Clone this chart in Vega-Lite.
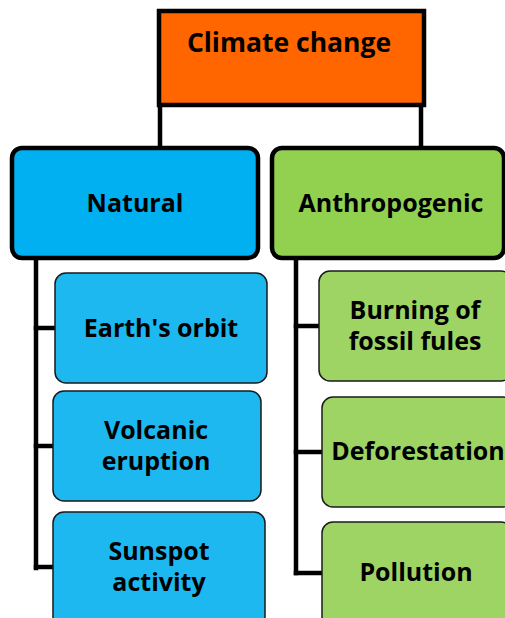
{
  "$schema": "https://vega.github.io/schema/vega-lite/v6.json",
  "width": 505,
  "height": 618,
  "autosize": {"type": "fit", "contains": "padding"},
  "padding": 0,
  "background": "white",
  "view": {"stroke": null},
  "config": {"text": {"font": "Open Sans"}},
  "datasets": {
    "boxes": [
      {"name": "Climate change", "level": "top", "kind": "root", "x": 159, "x2": 424, "y": 11, "y2": 105, "tx": 289, "ty": 44},
      {"name": "Natural", "level": "l2", "kind": "natural", "x": 12, "x2": 258, "y": 148, "y2": 258, "tx": 135, "ty": 204},
      {"name": "Anthropogenic", "level": "l2", "kind": "anthro", "x": 272, "x2": 504, "y": 148, "y2": 258, "tx": 391, "ty": 204},
      {"name": "Earth's orbit", "level": "child", "kind": "natural_child", "x": 55, "x2": 267, "y": 273, "y2": 383, "tx": 161, "ty": 329},
      {"name": "Volcanic\neruption", "level": "child", "kind": "natural_child", "x": 53, "x2": 261, "y": 391, "y2": 501, "tx": 156, "ty": 431},
      {"name": "Sunspot\nactivity", "level": "child", "kind": "natural_child", "x": 53, "x2": 265, "y": 512, "y2": 628, "tx": 159, "ty": 552},
      {"name": "Burning of\nfossil fules", "level": "child", "kind": "anthro_child", "x": 319, "x2": 512, "y": 271, "y2": 381, "tx": 415, "ty": 311},
      {"name": "Deforestation", "level": "child", "kind": "anthro_child", "x": 322, "x2": 514, "y": 397, "y2": 507, "tx": 418, "ty": 452},
      {"name": "Pollution", "level": "child", "kind": "anthro_child", "x": 322, "x2": 512, "y": 522, "y2": 632, "tx": 416, "ty": 573}
    ],
    "links": [
      {"x": 160, "x2": 160, "y": 105, "y2": 148},
      {"x": 421, "x2": 421, "y": 105, "y2": 148},
      {"x": 36, "x2": 36, "y": 258, "y2": 568},
      {"x": 36, "x2": 55, "y": 328, "y2": 328},
      {"x": 36, "x2": 53, "y": 446, "y2": 446},
      {"x": 36, "x2": 53, "y": 567, "y2": 567},
      {"x": 296, "x2": 296, "y": 258, "y2": 573},
      {"x": 296, "x2": 319, "y": 326, "y2": 326},
      {"x": 296, "x2": 322, "y": 452, "y2": 452},
      {"x": 296, "x2": 322, "y": 573, "y2": 573}
    ]
  },
  "layer": [
    {
      "data": {"name": "links"},
      "mark": {"type": "rule", "color": "black", "strokeWidth": 4.5, "strokeCap": "square", "clip": true},
      "encoding": {
        "x": {"field": "x", "type": "quantitative", "scale": {"domain": [0, 505], "nice": false, "zero": false}, "axis": null},
        "x2": {"field": "x2"},
        "y": {"field": "y", "type": "quantitative", "scale": {"domain": [0, 618], "nice": false, "zero": false, "reverse": true}, "axis": null},
        "y2": {"field": "y2"}
      }
    },
    {
      "data": {"name": "boxes"},
      "transform": [{"filter": "datum.level === 'top'"}],
      "mark": {"type": "rect", "stroke": "black", "strokeWidth": 4.5, "clip": true},
      "encoding": {
        "x": {"field": "x", "type": "quantitative", "scale": {"domain": [0, 505], "nice": false, "zero": false}, "axis": null},
        "x2": {"field": "x2"},
        "y": {"field": "y", "type": "quantitative", "scale": {"domain": [0, 618], "nice": false, "zero": false, "reverse": true}, "axis": null},
        "y2": {"field": "y2"},
        "fill": {"field": "kind", "type": "nominal", "scale": {"domain": ["root", "natural", "anthro", "natural_child", "anthro_child"], "range": ["#FF6600", "#00B0F0", "#92D050", "#1CB8EF", "#9DD463"]}, "legend": null}
      }
    },
    {
      "data": {"name": "boxes"},
      "transform": [{"filter": "datum.level === 'l2'"}],
      "mark": {"type": "rect", "stroke": "black", "strokeWidth": 4.5, "cornerRadius": 10, "clip": true},
      "encoding": {
        "x": {"field": "x", "type": "quantitative", "scale": {"domain": [0, 505], "nice": false, "zero": false}, "axis": null},
        "x2": {"field": "x2"},
        "y": {"field": "y", "type": "quantitative", "scale": {"domain": [0, 618], "nice": false, "zero": false, "reverse": true}, "axis": null},
        "y2": {"field": "y2"},
        "fill": {"field": "kind", "type": "nominal", "scale": {"domain": ["root", "natural", "anthro", "natural_child", "anthro_child"], "range": ["#FF6600", "#00B0F0", "#92D050", "#1CB8EF", "#9DD463"]}, "legend": null}
      }
    },
    {
      "data": {"name": "boxes"},
      "transform": [{"filter": "datum.level === 'child'"}],
      "mark": {"type": "rect", "stroke": "#1a1a1a", "strokeWidth": 1.5, "cornerRadius": 11, "clip": true},
      "encoding": {
        "x": {"field": "x", "type": "quantitative", "scale": {"domain": [0, 505], "nice": false, "zero": false}, "axis": null},
        "x2": {"field": "x2"},
        "y": {"field": "y", "type": "quantitative", "scale": {"domain": [0, 618], "nice": false, "zero": false, "reverse": true}, "axis": null},
        "y2": {"field": "y2"},
        "fill": {"field": "kind", "type": "nominal", "scale": {"domain": ["root", "natural", "anthro", "natural_child", "anthro_child"], "range": ["#FF6600", "#00B0F0", "#92D050", "#1CB8EF", "#9DD463"]}, "legend": null}
      }
    },
    {
      "data": {"name": "boxes"},
      "transform": [{"filter": "datum.level === 'top'"}],
      "mark": {"type": "text", "font": "Open Sans", "fontWeight": "bold", "fontSize": 26.5, "color": "black", "align": "center", "baseline": "middle", "clip": true},
      "encoding": {
        "x": {"field": "tx", "type": "quantitative", "scale": {"domain": [0, 505], "nice": false, "zero": false}, "axis": null},
        "y": {"field": "ty", "type": "quantitative", "scale": {"domain": [0, 618], "nice": false, "zero": false, "reverse": true}, "axis": null},
        "text": {"field": "name", "type": "nominal"}
      }
    },
    {
      "data": {"name": "boxes"},
      "transform": [{"filter": "datum.level !== 'top'"}],
      "mark": {"type": "text", "font": "Open Sans", "fontWeight": "bold", "fontSize": 25, "color": "black", "align": "center", "baseline": "middle", "lineBreak": "\n", "lineHeight": 31, "clip": true},
      "encoding": {
        "x": {"field": "tx", "type": "quantitative", "scale": {"domain": [0, 505], "nice": false, "zero": false}, "axis": null},
        "y": {"field": "ty", "type": "quantitative", "scale": {"domain": [0, 618], "nice": false, "zero": false, "reverse": true}, "axis": null},
        "text": {"field": "name", "type": "nominal"}
      }
    }
  ]
}
